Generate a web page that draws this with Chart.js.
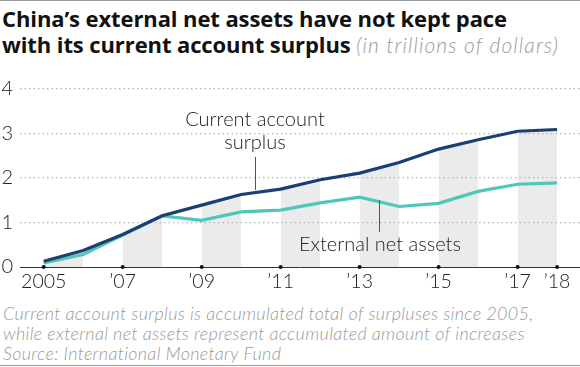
<!DOCTYPE html>
<html>
<head>
<meta charset="utf-8">
<script src="https://cdn.jsdelivr.net/npm/chart.js@4"></script>
<style>
  html, body { margin: 0; padding: 0; background: #fff; }
  #wrap { position: relative; width: 580px; height: 367px; overflow: hidden; font-family: Lato, "Noto Sans", sans-serif; }
  .rule { position: absolute; left: 0; width: 580px; height: 1px; background: #9a9a9a; }
  #title { position: absolute; left: 2px; top: 5px; font-family: "Open Sans", Lato, sans-serif; font-weight: 700; font-size: 22px; line-height: 26px; color: #111; white-space: nowrap; letter-spacing: -0.1px; }
  #title .unit { font-family: Lato, sans-serif; font-weight: 300; font-style: italic; font-size: 21px; color: #9a9a9a; letter-spacing: 1.1px; }
  #chartbox { position: absolute; left: 0; top: 70px; width: 580px; height: 230px; }
  .ann { position: absolute; font-weight: 300; font-size: 20px; line-height: 23px; color: #222; text-align: center; white-space: nowrap; }
  .lead { position: absolute; width: 1px; background: #555; }
  #foot { position: absolute; left: 3px; top: 303px; font-style: italic; font-weight: 300; font-size: 18px; line-height: 20px; color: #9a9a9a; white-space: nowrap; letter-spacing: 0.3px; }
</style>
</head>
<body>
<div id="wrap">
  <div class="rule" style="top:0"></div>
  <div id="title">China’s external net assets have not kept pace<br>with its current account surplus <span class="unit">(in trillions of dollars)</span></div>
  <div id="chartbox"><canvas id="c" width="580" height="230"></canvas></div>
  <div class="ann" style="left:155px; top:107px; width:200px;">Current account<br>surplus</div>
  <div class="lead" style="left:255px; top:157px; height:33px;"></div>
  <div class="ann" style="left:280px; top:232px; width:200px;">External net assets</div>
  <div class="lead" style="left:379px; top:200px; height:32px;"></div>
  <div id="foot">Current account surplus is accumulated total of surpluses since 2005,<br>while external net assets represent accumulated amount of increases<br>Source: International Monetary Fund</div>
  <div class="rule" style="top:365px"></div>
</div>
<script>
const years = [2005, 2006, 2007, 2008, 2009, 2010, 2011, 2012, 2013, 2014, 2015, 2016, 2017, 2018];
const currentAccountSurplus = [0.13, 0.37, 0.73, 1.15, 1.39, 1.63, 1.75, 1.96, 2.11, 2.35, 2.65, 2.86, 3.05, 3.09];
const externalNetAssets = [0.09, 0.28, 0.72, 1.15, 1.05, 1.24, 1.28, 1.44, 1.57, 1.36, 1.43, 1.70, 1.86, 1.89];
const xTickValues = [2005, 2007, 2009, 2011, 2013, 2015, 2017, 2018];
const xTickLabels = ['2005', '’07', '’09', '’11', '’13', '’15', '’17', '’18'];
const yTickValues = [0, 1, 2, 3, 4];

const NAVY = '#1b3f72';
const TEAL = '#4fc6bb';
const BAND = '#ebebeb';

const pts = arr => arr.map((v, i) => ({ x: years[i], y: v }));

const tickDots = {
  id: 'tickDots',
  afterDatasetsDraw(chart) {
    const { ctx, scales: { x, y } } = chart;
    ctx.save();
    ctx.fillStyle = '#111';
    const py = y.getPixelForValue(0);
    xTickValues.forEach(v => {
      ctx.beginPath();
      ctx.arc(x.getPixelForValue(v), py, 2, 0, Math.PI * 2);
      ctx.fill();
    });
    ctx.restore();
  }
};

new Chart(document.getElementById('c'), {
  type: 'line',
  data: {
    datasets: [
      {
        label: 'Current account surplus',
        data: pts(currentAccountSurplus),
        borderColor: NAVY,
        borderWidth: 3.2,
        pointRadius: 0,
        fill: false,
        tension: 0,
        order: 1
      },
      {
        label: 'External net assets',
        data: pts(externalNetAssets),
        borderColor: TEAL,
        borderWidth: 3.2,
        pointRadius: 0,
        fill: false,
        tension: 0,
        order: 2
      },
      {
        label: 'bands',
        data: pts(currentAccountSurplus),
        borderWidth: 0,
        borderColor: 'rgba(0,0,0,0)',
        pointRadius: 0,
        fill: 'origin',
        backgroundColor: BAND,
        segment: {
          backgroundColor: c => (c.p0DataIndex % 2 === 0 ? BAND : 'rgba(0,0,0,0)')
        },
        order: 3
      }
    ]
  },
  options: {
    responsive: false,
    animation: false,
    events: [],
    layout: { padding: { top: 17, right: 0, bottom: 0, left: 0 } },
    plugins: {
      legend: { display: false },
      tooltip: { enabled: false },
      filler: { drawTime: 'beforeDraw' }
    },
    scales: {
      x: {
        type: 'linear',
        min: 2004.4,
        max: 2018.58,
        afterBuildTicks: s => { s.ticks = xTickValues.map(v => ({ value: v })); },
        afterFit: s => { s.height = 33; },
        grid: { display: false, drawTicks: false },
        border: { display: true, color: '#333', width: 1 },
        ticks: {
          autoSkip: false,
          maxRotation: 0,
          padding: 3,
          color: '#222',
          font: { family: 'Lato', size: 19.5, weight: 300 },
          callback: (v) => { const i = xTickValues.indexOf(v); return i >= 0 ? xTickLabels[i] : ''; }
        }
      },
      y: {
        min: 0,
        max: 4,
        afterBuildTicks: s => { s.ticks = yTickValues.map(v => ({ value: v })); },
        afterFit: s => { s.width = 20; },
        grid: {
          drawTicks: false,
          color: c => (c.tick && c.tick.value === 0 ? 'rgba(0,0,0,0)' : '#b5b5b5'),
          lineWidth: 1.2
        },
        border: { display: false, dash: [1.5, 3] },
        ticks: {
          padding: 7,
          color: '#222',
          font: { family: 'Lato', size: 20, weight: 300 }
        }
      }
    }
  },
  plugins: [tickDots]
});
</script>
</body>
</html>
